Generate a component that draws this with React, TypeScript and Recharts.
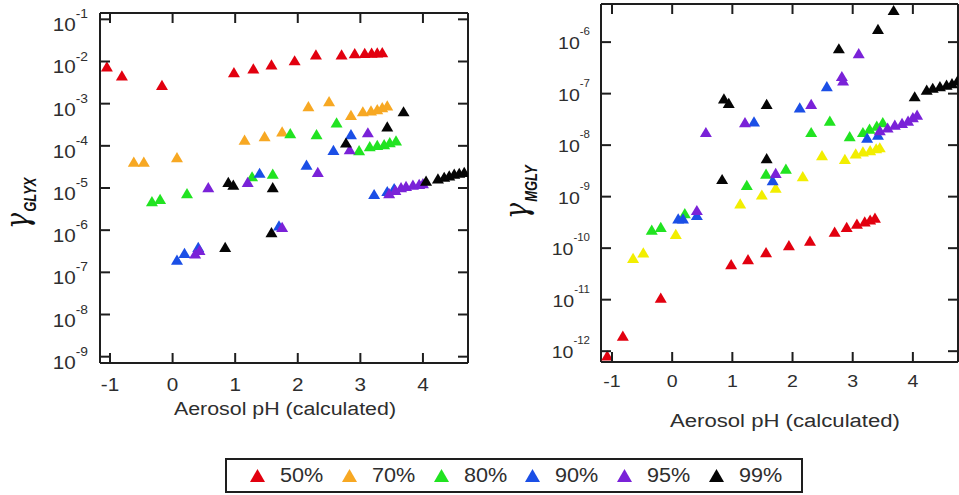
import React from "react";
import { ScatterChart, Scatter, XAxis, YAxis, ReferenceLine } from "recharts";

// Relative-humidity classes, in legend order.
const LABELS = ["50%", "70%", "80%", "90%", "95%", "99%"];
const COLORS = ["#e2000f", "#f7a823", "#21e321", "#1b4fe6", "#7a22d8", "#050505"];
// the right panel prints its 70% series in yellow, not orange
const MGLY_COLORS = ["#e2000f", "#f2ee00", "#21e321", "#1b4fe6", "#7a22d8", "#050505"];

const PH_TICKS = [-1, 0, 1, 2, 3, 4];
const GLYX_TICKS = [1e-1, 1e-2, 1e-3, 1e-4, 1e-5, 1e-6, 1e-7, 1e-8, 1e-9];
const MGLY_TICKS = [1e-6, 1e-7, 1e-8, 1e-9, 1e-10, 1e-11, 1e-12];

// [pH, gamma]
const glyx50 = [[-1.05, 7.7e-3], [-0.81, 4.7e-3], [-0.17, 2.8e-3], [0.98, 5.6e-3], [1.29, 6.9e-3], [1.58, 8.5e-3], [1.95, 1.07e-2], [2.29, 1.48e-2], [2.7, 1.48e-2], [2.91, 1.58e-2], [3.07, 1.6e-2], [3.18, 1.62e-2], [3.27, 1.65e-2], [3.35, 1.66e-2]];
const glyx70 = [[-0.62, 4.2e-5], [-0.46, 4.2e-5], [0.07, 5.4e-5], [1.15, 1.4e-4], [1.47, 1.7e-4], [1.75, 2.2e-4], [2.17, 8.7e-4], [2.5, 1.15e-3], [2.85, 5.4e-4], [3.04, 6.6e-4], [3.17, 6.9e-4], [3.27, 7.4e-4], [3.35, 8.3e-4], [3.43, 9.1e-4]];
const glyx80 = [[-0.33, 4.9e-6], [-0.2, 5.5e-6], [0.23, 7.6e-6], [1.27, 1.9e-5], [1.6, 2.2e-5], [1.88, 2.0e-4], [2.3, 1.9e-4], [2.62, 3.6e-4], [2.98, 7.9e-5], [3.15, 9.8e-5], [3.27, 1.05e-4], [3.38, 1.1e-4], [3.47, 1.23e-4], [3.57, 1.35e-4]];
const glyx90 = [[0.07, 2.0e-7], [0.19, 2.9e-7], [0.41, 4.0e-7], [1.7, 1.3e-6], [1.39, 2.3e-5], [2.14, 3.6e-5], [2.57, 8e-5], [2.85, 1.9e-4], [3.22, 7.2e-6], [3.43, 8.5e-6], [3.54, 1.0e-5]];
const glyx95 = [[0.36, 2.8e-7], [0.43, 3.4e-7], [0.57, 1.05e-5], [1.2, 1.4e-5], [1.75, 1.2e-6], [2.32, 2.4e-5], [2.83, 8.3e-5], [3.12, 2.1e-4], [3.46, 7.6e-6], [3.56, 9e-6], [3.65, 1.05e-5], [3.73, 1.12e-5], [3.84, 1.2e-5], [3.94, 1.25e-5], [4.0, 1.3e-5]];
const glyx99 = [[0.84, 4e-7], [0.89, 1.4e-5], [0.97, 1.2e-5], [1.58, 9e-7], [1.6, 1.05e-5], [2.77, 1.2e-4], [3.43, 2.9e-4], [3.69, 6.6e-4], [4.05, 1.5e-5], [4.24, 1.7e-5], [4.34, 1.85e-5], [4.42, 2.0e-5], [4.5, 2.2e-5], [4.58, 2.3e-5], [4.66, 2.4e-5]];

// [pH, gamma]
const mgly50 = [[-1.08, 8.3e-13], [-0.82, 2e-12], [-0.19, 1.1e-11], [0.98, 4.9e-11], [1.26, 6.1e-11], [1.56, 8.4e-11], [1.94, 1.15e-10], [2.29, 1.4e-10], [2.7, 2.1e-10], [2.9, 2.6e-10], [3.07, 3.0e-10], [3.2, 3.3e-10], [3.29, 3.6e-10], [3.37, 3.9e-10]];
const mgly70 = [[-0.65, 6.5e-11], [-0.48, 8.3e-11], [0.06, 1.9e-10], [1.13, 7.4e-10], [1.49, 1.1e-9], [1.72, 1.5e-9], [2.17, 2.5e-9], [2.49, 6.4e-9], [2.87, 5.4e-9], [3.05, 6.9e-9], [3.17, 7.6e-9], [3.29, 8e-9], [3.39, 8.7e-9], [3.45, 9.1e-9]];
const mgly80 = [[-0.34, 2.3e-10], [-0.19, 2.6e-10], [0.21, 4.8e-10], [1.24, 1.7e-9], [1.56, 2.8e-9], [1.89, 3.5e-9], [2.31, 1.8e-8], [2.62, 3.0e-8], [2.95, 1.5e-8], [3.17, 1.8e-8], [3.28, 2.1e-8], [3.4, 2.4e-8], [3.5, 2.8e-8]];
const mgly90 = [[0.1, 3.8e-10], [0.18, 3.8e-10], [0.41, 4.4e-10], [1.36, 2.9e-8], [1.67, 2.1e-9], [2.12, 5.4e-8], [2.57, 1.4e-7], [3.24, 1.4e-8], [3.42, 1.6e-8]];
const mgly95 = [[0.41, 5.5e-10], [0.56, 1.8e-8], [1.21, 2.8e-8], [1.72, 2.9e-9], [2.31, 6.3e-8], [2.82, 2.2e-7], [2.84, 1.8e-7], [3.1, 6.1e-7], [3.45, 1.95e-8], [3.58, 2.2e-8], [3.7, 2.5e-8], [3.82, 2.7e-8], [3.92, 3.0e-8], [4.0, 3.5e-8], [4.07, 3.9e-8]];
const mgly99 = [[0.83, 2.2e-9], [0.86, 8.1e-8], [0.94, 6.6e-8], [1.57, 6.3e-8], [1.57, 5.6e-9], [2.77, 7.6e-7], [3.42, 1.8e-6], [3.68, 4.2e-6], [4.03, 8.9e-8], [4.23, 1.2e-7], [4.33, 1.3e-7], [4.45, 1.4e-7], [4.56, 1.5e-7], [4.65, 1.6e-7], [4.74, 1.8e-7]];

const GLYX = [glyx50, glyx70, glyx80, glyx90, glyx95, glyx99];
const MGLY = [mgly50, mgly70, mgly80, mgly90, mgly95, mgly99];

const FONT = "'Liberation Sans', Arial, sans-serif";
const INK = "#1e1e1e";
const TXT = "#2e2e2e";

type Frame = { left: number; right: number; top: number; bottom: number };
type Lab = { size: number; sup: number; gap: number; base: number; lift: number; xBase: number; xSize: number };

const rows = (pts: number[][]) => pts.map(([x, y]) => ({ x, y }));

const tri = (color: string, w: number) => (p: any) => {
  const h = w * 0.85;
  const { cx, cy } = p;
  return <polygon points={`${cx - w / 2},${cy + h / 2} ${cx + w / 2},${cy + h / 2} ${cx},${cy - h / 2}`} fill={color} />;
};

// ticks point inward on both opposite sides, like the original plotting package.
// Frame here is in the chart's own svg coordinates.
const xTick = (f: Frame, l: Lab) => (p: any) => {
  const c = p.payload?.coordinate ?? p.x;
  return (
    <g>
      <line x1={c} x2={c} y1={f.bottom} y2={f.bottom - 10} stroke={INK} strokeWidth={2} />
      <line x1={c} x2={c} y1={f.top} y2={f.top + 10} stroke={INK} strokeWidth={2} />
      <text transform={`translate(${c},${f.bottom + l.xBase}) scale(1.15,1)`} textAnchor="middle" fontSize={l.xSize} fontFamily={FONT} fill={TXT}>
        {p.payload.value}
      </text>
    </g>
  );
};

const yTick = (f: Frame, l: Lab) => (p: any) => {
  const c = p.payload?.coordinate ?? p.y;
  const e = Math.round(Math.log10(p.payload.value));
  return (
    <g>
      <line x1={f.left} x2={f.left + 10} y1={c} y2={c} stroke={INK} strokeWidth={2} />
      <line x1={f.right - 10} x2={f.right} y1={c} y2={c} stroke={INK} strokeWidth={2} />
      <text transform={`translate(${f.left - l.gap},${c + l.base}) scale(1.15,1)`} textAnchor="end" fontSize={l.size} fontFamily={FONT} fill={TXT}>
        10<tspan fontSize={l.sup} dy={-l.lift}>{e}</tspan>
      </text>
    </g>
  );
};

function Panel({ sets, colors, ticks, xDom, yDom, frame, lab, width, height, left }: any) {
  // page coordinates -> this chart's svg coordinates
  const f: Frame = { left: frame.left - left, right: frame.right - left, top: frame.top, bottom: frame.bottom };
  return (
    <div style={{ position: "absolute", left, top: 0 }}>
      <ScatterChart width={width} height={height} margin={{ top: f.top, right: width - f.right, left: 0, bottom: 0 }}>
        <XAxis
          type="number"
          dataKey="x"
          domain={xDom}
          ticks={PH_TICKS}
          allowDataOverflow
          height={height - f.bottom}
          axisLine={{ stroke: INK, strokeWidth: 2 }}
          tickLine={false}
          tick={xTick(f, lab)}
        />
        <YAxis
          type="number"
          dataKey="y"
          scale="log"
          domain={yDom}
          ticks={ticks}
          allowDataOverflow
          width={f.left}
          axisLine={{ stroke: INK, strokeWidth: 2 }}
          tickLine={false}
          tick={yTick(f, lab)}
        />
        <ReferenceLine y={yDom[1]} stroke={INK} strokeWidth={2} ifOverflow="visible" />
        <ReferenceLine x={xDom[1]} stroke={INK} strokeWidth={2} ifOverflow="visible" />
        {sets.map((s: number[][], i: number) => (
          <Scatter key={LABELS[i]} name={LABELS[i]} data={rows(s)} shape={tri(colors[i], 12)} isAnimationActive={false} />
        ))}
      </ScatterChart>
    </div>
  );
}

export default function App() {
  return (
    <div style={{ position: "absolute", left: 0, top: 0, width: 959, height: 495, background: "#fff", overflow: "hidden" }}>
      <Panel
        sets={GLYX}
        colors={COLORS}
        ticks={GLYX_TICKS}
        xDom={[-1.16, 4.72]}
        yDom={[Math.pow(10, -9.15), Math.pow(10, -0.85)]}
        frame={{ left: 100, right: 468, top: 13, bottom: 363 }}
        lab={{ size: 18, sup: 12, gap: 12, base: 12, lift: 13, xBase: 28, xSize: 18 }}
        width={472}
        height={440}
        left={0}
      />
      <Panel
        sets={MGLY}
        colors={MGLY_COLORS}
        ticks={MGLY_TICKS}
        xDom={[-1.183, 4.75]}
        yDom={[Math.pow(10, -12.21), Math.pow(10, -5.26)]}
        frame={{ left: 601, right: 958, top: 4, bottom: 362 }}
        lab={{ size: 17, sup: 10, gap: 11, base: 7, lift: 14, xBase: 25, xSize: 17 }}
        width={459}
        height={440}
        left={500}
      />

      <svg width={959} height={495} style={{ position: "absolute", left: 0, top: 0, pointerEvents: "none" }}>
        <text x={285} y={415} textAnchor="middle" fontSize={18} fontFamily={FONT} fill={TXT} textLength={222} lengthAdjust="spacingAndGlyphs">
          Aerosol pH (calculated)
        </text>
        <text x={785} y={427} textAnchor="middle" fontSize={18} fontFamily={FONT} fill={TXT} textLength={230} lengthAdjust="spacingAndGlyphs">
          Aerosol pH (calculated)
        </text>
        <text transform="translate(28,229) rotate(-90) scale(1,1.2)" fill="#111">
          <tspan fontFamily="'DejaVu Serif', serif" fontStyle="italic" fontSize={27}>γ</tspan>
          <tspan fontFamily={FONT} fontStyle="italic" fontWeight="bold" fontSize={13} dy={7} dx={1}>GLYX</tspan>
        </text>
        <text transform="translate(527,219) rotate(-90) scale(1,1.2)" fill="#111">
          <tspan fontFamily="'DejaVu Serif', serif" fontStyle="italic" fontSize={27}>γ</tspan>
          <tspan fontFamily={FONT} fontStyle="italic" fontWeight="bold" fontSize={13} dy={8} dx={1}>MGLY</tspan>
        </text>
      </svg>

      <div
        style={{
          position: "absolute",
          left: 225,
          top: 458,
          width: 578,
          height: 35,
          boxSizing: "border-box",
          border: `2px solid ${INK}`,
          display: "flex",
          alignItems: "center",
          paddingLeft: 23,
          fontFamily: FONT,
          fontSize: 20,
          color: TXT,
        }}
      >
        {LABELS.map((t, i) => (
          <div key={t} style={{ display: "flex", alignItems: "center", width: 96 }}>
            <svg width={15} height={14}>
              <polygon points="0,13 15,13 7.5,0" fill={COLORS[i]} />
            </svg>
            <span style={{ marginLeft: 15, display: "inline-block", transform: "scaleX(1.08)", transformOrigin: "left" }}>{t}</span>
          </div>
        ))}
      </div>
    </div>
  );
}
